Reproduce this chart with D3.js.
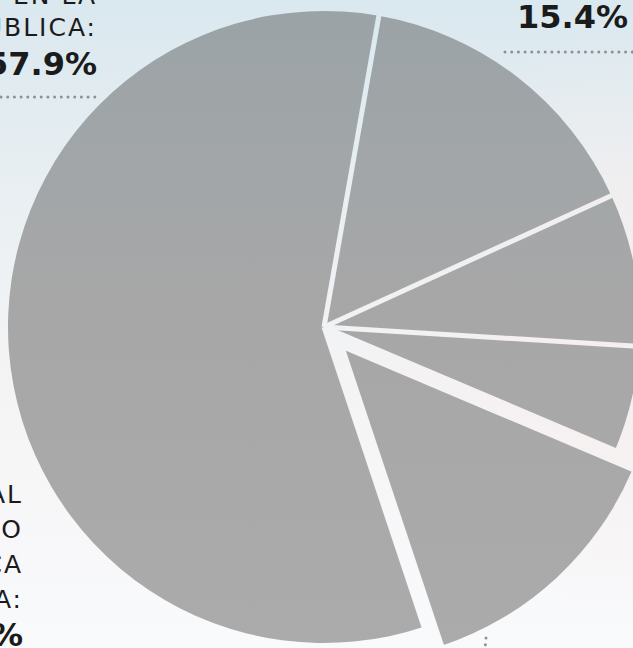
<!DOCTYPE html>
<html>
<head>
<meta charset="utf-8">
<script src="https://cdn.jsdelivr.net/npm/d3@7"></script>
<style>
  html, body { margin: 0; padding: 0; background: #f4f7f9; overflow: hidden; }
  svg { display: block; }
  .txt { font-family: "DejaVu Sans", sans-serif; fill: #1b1b1b; }
  .txt.small { font-size: 25px; letter-spacing: 2px; }
  .txt.big { font-size: 32px; font-weight: bold; letter-spacing: 0px; }
  .leader { stroke: #8e9194; stroke-width: 3; stroke-linecap: round; stroke-dasharray: 0 6.7; fill: none; }
</style>
</head>
<body>
<div id="chart"></div>
<script>
// slices, clockwise starting just right of twelve o'clock
var categories = ["Consultorio privado", "Farmacia", "Otro", "Hospital o clinica privada", "Red publica"];
var shares = [15.4, 7.8, 5.4, 13.5, 57.9];
var pulledOut = "Hospital o clinica privada";

// label texts (only the parts inside the frame show)
var labelRedPublica = ["SE ATENDIERON EN LA", "RED PÚBLICA:"];
var labelConsultorio = ["EN UN CONSULTORIO:"];
var labelPrivada = ["SE ATENDIERON EN UN HOSPITAL", "PRIVADO O", "CLÍNICA", "PRIVADA:"];

var width = 633,
  height = 648;
var cx = 324,
  cy = 327,
  radius = 316;
var gap = 5,
  pull = 26;
var startAngle = 10 * Math.PI / 180;

var pct = function(v) { return d3.format(".1f")(v) + "%"; };

var svg = d3.select("#chart").append("svg")
  .attr("width", width)
  .attr("height", height);

var defs = svg.append("defs");

// blurred photo look for the background
var bg = defs.append("linearGradient")
  .attr("id", "bg")
  .attr("x1", 0).attr("y1", 0).attr("x2", 0).attr("y2", 1);
bg.append("stop").attr("offset", "0%").attr("stop-color", "#dae8ef");
bg.append("stop").attr("offset", "30%").attr("stop-color", "#e9eff2");
bg.append("stop").attr("offset", "60%").attr("stop-color", "#f5f4f5");
bg.append("stop").attr("offset", "100%").attr("stop-color", "#f9fafc");

var warm = defs.append("radialGradient")
  .attr("id", "warm")
  .attr("cx", 1).attr("cy", 0.5).attr("r", 0.45);
warm.append("stop").attr("offset", "0%").attr("stop-color", "#f6eeee").attr("stop-opacity", 1);
warm.append("stop").attr("offset", "100%").attr("stop-color", "#f6eeee").attr("stop-opacity", 0);

// slice tint, in pie coordinates
var tint = defs.append("linearGradient")
  .attr("id", "tint")
  .attr("gradientUnits", "userSpaceOnUse")
  .attr("x1", 0).attr("y1", -radius).attr("x2", 0).attr("y2", radius);
tint.append("stop").attr("offset", "0%").attr("stop-color", "#9ba3a6");
tint.append("stop").attr("offset", "25%").attr("stop-color", "#a2a6a8");
tint.append("stop").attr("offset", "50%").attr("stop-color", "#a8a7a7");
tint.append("stop").attr("offset", "100%").attr("stop-color", "#ababab");

svg.append("rect").attr("width", width).attr("height", height).attr("fill", "url(#bg)");
svg.append("rect").attr("width", width).attr("height", height).attr("fill", "url(#warm)");

var pie = d3.pie()
  .sort(null)
  .value(function(d) { return d; })
  .startAngle(startAngle)
  .endAngle(startAngle + 2 * Math.PI);

var arcs = pie(shares);

var arc = d3.arc()
  .innerRadius(0)
  .outerRadius(radius);

// light strips along every slice border
var mask = defs.append("mask")
  .attr("id", "gaps")
  .attr("maskUnits", "userSpaceOnUse")
  .attr("x", -800).attr("y", -800).attr("width", 1600).attr("height", 1600);
mask.append("rect")
  .attr("x", -800).attr("y", -800).attr("width", 1600).attr("height", 1600)
  .attr("fill", "#fff");
mask.selectAll("line")
  .data(arcs)
  .enter().append("line")
  .attr("x1", 0)
  .attr("y1", 0)
  .attr("x2", function(d) { return Math.sin(d.startAngle) * radius * 1.3; })
  .attr("y2", function(d) { return -Math.cos(d.startAngle) * radius * 1.3; })
  .attr("stroke", "#000")
  .attr("stroke-width", gap);

var g = svg.append("g")
  .attr("transform", "translate(" + cx + "," + cy + ")");

g.selectAll(".slice")
  .data(arcs)
  .enter().append("g")
  .attr("class", "slice")
  .attr("transform", function(d, i) {
    if (categories[i] != pulledOut) return null;
    var mid = (d.startAngle + d.endAngle) / 2;
    return "translate(" + Math.sin(mid) * pull + "," + -Math.cos(mid) * pull + ")";
  })
  .append("path")
  .attr("d", arc)
  .attr("fill", "url(#tint)")
  .attr("mask", "url(#gaps)");

// labels
function addLabel(lines, value, x, y, lineGap, valueGap) {
  var t = svg.append("text")
    .attr("class", "txt")
    .attr("text-anchor", "end");
  lines.forEach(function(l, i) {
    t.append("tspan")
      .attr("class", "txt small")
      .attr("x", x)
      .attr("y", y + i * lineGap)
      .text(l);
  });
  t.append("tspan")
    .attr("class", "txt big")
    .attr("x", x)
    .attr("y", y + (lines.length - 1) * lineGap + valueGap)
    .text(value);
}

var iPub = categories.indexOf("Red publica");
var iCon = categories.indexOf("Consultorio privado");
var iPriv = categories.indexOf("Farmacia");

addLabel(labelRedPublica, pct(shares[iPub]), 97, 4, 32, 39);
addLabel(labelConsultorio, pct(shares[iCon]), 628, -12, 32, 40);
addLabel(labelPrivada, pct(shares[iPriv]), 23, 503, 35, 38);

svg.append("line").attr("class", "leader")
  .attr("x1", 1).attr("y1", 97).attr("x2", 97).attr("y2", 97);
svg.append("line").attr("class", "leader")
  .attr("x1", 505).attr("y1", 52).attr("x2", 640).attr("y2", 52);
svg.append("line").attr("class", "leader")
  .attr("x1", 486).attr("y1", 638).attr("x2", 484).attr("y2", 660);
</script>
</body>
</html>
